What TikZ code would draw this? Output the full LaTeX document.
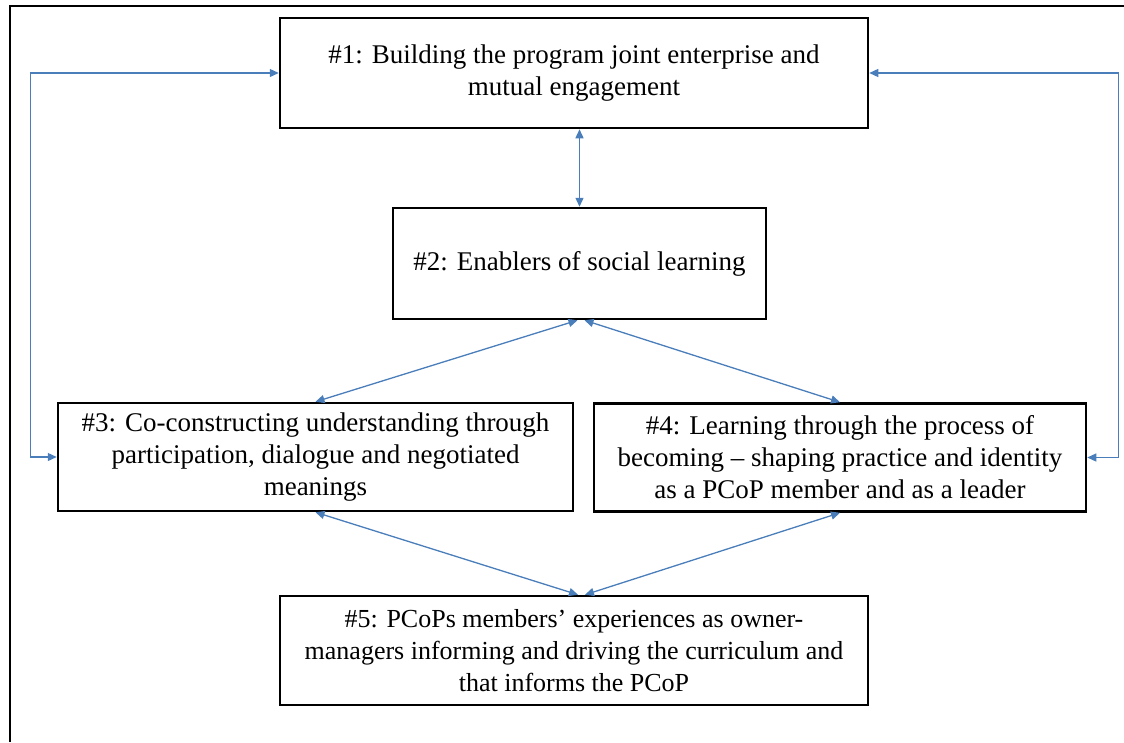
\documentclass[tikz,border=0pt]{standalone}
\usepackage{fontspec}
\setmainfont{Liberation Serif}
\usetikzlibrary{arrows.meta}
\definecolor{linkblue}{HTML}{4A7EBB}

\begin{document}
\begin{tikzpicture}[x=1pt,y=-1pt,
        every node/.style={draw,line width=2.5pt,align=center,inner sep=0pt,font=\fontsize{27}{32}\selectfont},
        link/.style={draw=linkblue,line width=1.3pt,{Triangle[length=9pt,width=8pt]}-{Triangle[length=9pt,width=8pt]}}]
        \useasboundingbox (0,0) rectangle (1124,742);
        \draw[line width=2pt] (10,742) -- (10,6) -- (1124,6);
        \node (b1) [minimum width=588pt,minimum height=110pt] at (574,73) {\#1: Building the program joint enterprise and\\mutual engagement};
        \node (b2) [minimum width=373pt,minimum height=111pt] at (579.5,263.5) {\#2: Enablers of social learning};
        \node (b3) [minimum width=515pt,minimum height=108pt] at (315.5,457) {\#3: Co-constructing understanding through\\participation, dialogue and negotiated\\meanings};
        \node (b4) [minimum width=492pt,minimum height=108pt] at (840,457.5) {\#4: Learning through the process of\\becoming – shaping practice and identity\\as a PCoP member and as a leader};
        \node (b5) [minimum width=588pt,minimum height=109pt,font=\fontsize{26}{32}\selectfont] at (574,650.5) {\#5: PCoPs members’ experiences as owner-\\managers informing and driving the curriculum and\\that informs the PCoP};
        \draw[link] (b1.west) -- ++(-248,0) |- (b3.west);
        \draw[link] (b1.east) -- ++(249,0) |- (b4.east);
        \draw[link] (b1.south -| b2.north) -- (b2.north);
        \draw[link] ([xshift=-2pt]b2.south) -- (b3.north);
        \draw[link] ([xshift=5pt]b2.south) -- (b4.north);
        \draw[link] (b3.south) -- ([xshift=4pt]b5.north);
        \draw[link] (b4.south) -- ([xshift=11pt]b5.north);
\end{tikzpicture}
\end{document}
